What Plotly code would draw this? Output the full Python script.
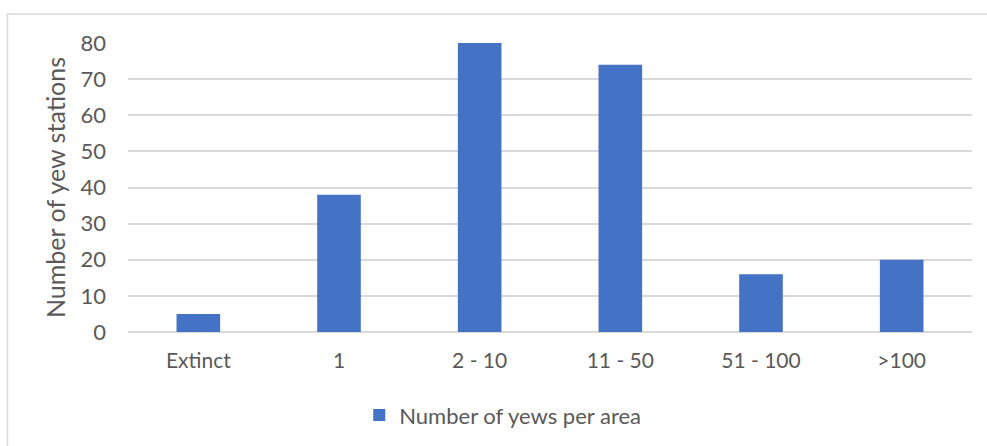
import plotly.graph_objects as go

# Yew survey: count of stations per abundance class
categories = ["Extinct", "1", "2 - 10", "11 - 50", "51 - 100", ">100"]
stations = [5, 38, 80, 74, 16, 20]
series_name = "Number of yews per area"
y_ticks = [0, 10, 20, 30, 40, 50, 60, 70, 80]

text_color = "#595959"
grid_color = "#d9d9d9"
font_family = "Lato, 'Open Sans', sans-serif"

fig = go.Figure()
fig.add_trace(go.Bar(
    x=categories,
    y=stations,
    name=series_name,
    marker=dict(color="#4472C4", line=dict(width=0)),
    width=0.31,
    showlegend=True,
))

fig.update_layout(
    width=987,
    height=446,
    margin=dict(l=128, r=15, t=43, b=114, autoexpand=False),
    paper_bgcolor="white",
    plot_bgcolor="white",
    font=dict(family=font_family, color=text_color, size=21),
    showlegend=True,
    legend=dict(
        orientation="h",
        x=0.274,
        xanchor="left",
        y=-0.215,
        yanchor="top",
        font=dict(size=22, color=text_color),
        itemwidth=30,
    ),
    bargap=0.69,
)

fig.update_xaxes(
    showgrid=False,
    showline=False,
    ticks="",
    tickfont=dict(size=21, color=text_color),
    ticklabelstandoff=14,
)

fig.update_yaxes(
    range=[0, 80],
    tickvals=y_ticks,
    showgrid=True,
    gridcolor=grid_color,
    gridwidth=1.5,
    zeroline=True,
    zerolinecolor=grid_color,
    zerolinewidth=1.5,
    showline=False,
    ticks="",
    tickfont=dict(size=22, color=text_color),
    ticklabelstandoff=21,
    title=dict(text="Number of yew stations", font=dict(size=25, color=text_color), standoff=7),
)

# Chart-area frame (light grey), extending past the right/bottom page edges
fig.add_shape(
    type="rect",
    xref="paper", yref="paper",
    x0=-0.1428, x1=1.2, y0=-0.8, y1=1.1003,
    line=dict(color=grid_color, width=1.5),
    fillcolor="rgba(0,0,0,0)",
    layer="below",
)

fig.write_html("out.html")
